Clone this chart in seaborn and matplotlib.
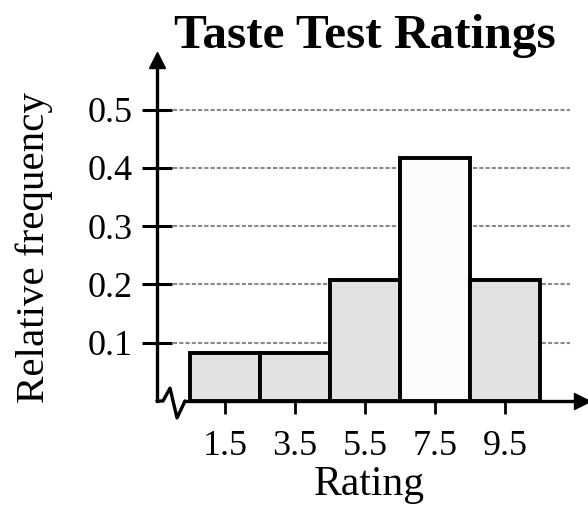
import numpy as np
import pandas as pd
import matplotlib.pyplot as plt
import seaborn as sns

# Taste test ratings: class midpoints, class boundaries, relative frequencies
midpoints = [1.5, 3.5, 5.5, 7.5, 9.5]
boundaries = [0.5, 2.5, 4.5, 6.5, 8.5, 10.5]
rel_freq = [0.083, 0.083, 0.208, 0.417, 0.208]
y_ticks = [0.1, 0.2, 0.3, 0.4, 0.5]
bar_colors = ['#e2e2e2', '#e2e2e2', '#e2e2e2', '#fbfbfb', '#e2e2e2']

sns.set_theme(style="white")
plt.rcParams['font.family'] = ['Liberation Serif', 'DejaVu Serif']

df = pd.DataFrame({'Rating': midpoints, 'freq': rel_freq})

fig = plt.figure(figsize=(5.88, 5.08), dpi=100)
ax = fig.add_axes([157/588, 107/508, 425/588, 341/508])

sns.histplot(data=df, x='Rating', weights='freq', bins=boundaries, ax=ax,
             edgecolor='black', linewidth=2.8, alpha=1, color='#e2e2e2', zorder=3)
for patch, c in zip(ax.patches, bar_colors):
    patch.set_facecolor(c)

ax.set_xlim(-0.443, 11.7)
ax.set_ylim(0, 0.585)

# dotted grid lines
for y in y_ticks:
    ax.axhline(y, xmin=0.037, xmax=0.972, color='#8a8a8a', lw=1.5,
               ls=(0, (2, 1)), zorder=1)

# axes with arrows
for s in ['top', 'right']:
    ax.spines[s].set_visible(False)
for s in ['left', 'bottom']:
    ax.spines[s].set_linewidth(2.4)
    ax.spines[s].set_color('black')
ax.spines['bottom'].set_bounds(0.357, 11.7)
ax.plot([1], [0], marker='>', ms=11, color='black', transform=ax.transAxes, clip_on=False)
ax.plot([0], [1], marker='^', ms=11, color='black', transform=ax.transAxes, clip_on=False)

# axis break zigzag
brk_x = [-0.443, -0.271, -0.071, 0.129, 0.357]
brk_y = [0, 0, 0.022, -0.029, 0]
ax.plot(brk_x, brk_y, color='black', lw=2.4, clip_on=False, zorder=4)

ax.set_xticks(midpoints)
ax.set_xticklabels([str(m) for m in midpoints])
ax.set_yticks(y_ticks)
ax.set_yticklabels([f'{t:.1f}' for t in y_ticks])
ax.tick_params(axis='y', direction='inout', length=21, width=2.2, pad=7,
               labelsize=26, colors='black', left=True)
ax.tick_params(axis='x', direction='out', length=9, width=2.0, pad=12,
               labelsize=26, colors='black', bottom=True)

ax.set_xlabel('Rating', fontsize=30, labelpad=2, color='black')
ax.set_ylabel('Relative frequency', fontsize=29.5, color='black')
ax.yaxis.set_label_coords(-0.245, 0.45)
ax.set_title('Taste Test Ratings', fontsize=35.5, fontweight='bold', pad=9,
             color='black', x=0.49)

fig.savefig('out.png', dpi=100)
